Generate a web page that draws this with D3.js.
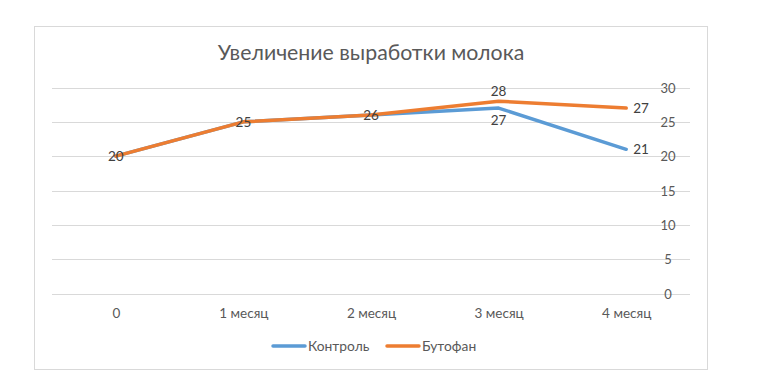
<!DOCTYPE html>
<html>
<head>
<meta charset="utf-8">
<script src="https://cdn.jsdelivr.net/npm/d3@7"></script>
<style>
  html, body { margin: 0; padding: 0; background: #fff; }
  svg { display: block; }
  text { font-family: "Lato", "Noto Sans", "Liberation Sans", sans-serif; }
</style>
</head>
<body>
<svg id="chart" width="766" height="391"></svg>
<script>
const title = "Увеличение выработки молока";
const categories = ["0", "1 месяц", "2 месяц", "3 месяц", "4 месяц"];
const seriesNames = ["Контроль", "Бутофан"];
const controlValues = [20, 25, 26, 27, 21];
const butofanValues = [20, 25, 26, 28, 27];
const yTicks = [0, 5, 10, 15, 20, 25, 30];
const colors = ["#5B9BD5", "#ED7D31"];
// label placement per point (style only)
const controlLabelPos = ["none", "none", "none", "below", "right"];
const butofanLabelPos = ["center", "center", "center", "above", "right"];

const svg = d3.select("#chart");
const FONT = '"Lato", "Noto Sans", "Liberation Sans", sans-serif';

// outer frame
svg.append("rect").attr("x", 34.5).attr("y", 26.5).attr("width", 673).attr("height", 343)
  .attr("fill", "#fff").attr("stroke", "#d9d9d9").attr("stroke-width", 1);

// title
svg.append("text").attr("x", 371).attr("y", 60).attr("text-anchor", "middle")
  .attr("font-size", 21.3).attr("fill", "#595959").text(title);

const x = d3.scalePoint().domain(categories).range([52, 690]).padding(0.5);
const y = d3.scaleLinear().domain([0, 30]).range([293.5, 87.5]);

// gridlines
svg.append("g").selectAll("line").data(yTicks).join("line")
  .attr("x1", 52).attr("x2", 690)
  .attr("y1", d => Math.round(y(d)) + 0.5).attr("y2", d => Math.round(y(d)) + 0.5)
  .attr("stroke", "#d9d9d9").attr("stroke-width", 1);

// right y axis labels
const yAxis = d3.axisRight(y).tickValues(yTicks).tickSize(0).tickPadding(0);
const gy = svg.append("g").attr("transform", "translate(668,0)").call(yAxis);
gy.select(".domain").remove();
gy.selectAll("text").attr("font-size", 13).attr("fill", "#595959")
  .attr("text-anchor", "middle").attr("dy", "0.35em")
  .style("font-family", FONT);

// x axis labels
const xAxis = d3.axisBottom(x).tickSize(0).tickPadding(0);
const gx = svg.append("g").attr("transform", "translate(0,313)").call(xAxis);
gx.select(".domain").remove();
gx.selectAll("text").attr("font-size", 13.5).attr("fill", "#595959").attr("dy", "0.35em")
  .style("font-family", FONT);

// lines
const line = d3.line().x((d, i) => x(categories[i])).y(d => y(d));
const allSeries = [controlValues, butofanValues];
allSeries.forEach((vals, si) => {
  svg.append("path").datum(vals).attr("d", line)
    .attr("fill", "none").attr("stroke", colors[si]).attr("stroke-width", 3.5)
    .attr("stroke-linejoin", "round").attr("stroke-linecap", "round");
});

// data labels
const labelPos = [controlLabelPos, butofanLabelPos];
allSeries.forEach((vals, si) => {
  vals.forEach((v, i) => {
    const pos = labelPos[si][i];
    if (pos === "none") return;
    let lx = x(categories[i]), ly = y(v), anchor = "middle";
    if (pos === "above") ly -= 10;
    else if (pos === "below") ly += 12.5;
    else if (pos === "right") { lx += 7; anchor = "start"; }
    svg.append("text").attr("x", lx).attr("y", ly).attr("dy", "0.35em")
      .attr("text-anchor", anchor).attr("font-size", 13.5).attr("fill", "#404040").text(v);
  });
});

// legend
const legendItems = [
  { name: seriesNames[0], color: colors[0], x1: 273, x2: 305 },
  { name: seriesNames[1], color: colors[1], x1: 387, x2: 419 }
];
legendItems.forEach(it => {
  svg.append("line").attr("x1", it.x1).attr("x2", it.x2).attr("y1", 346).attr("y2", 346)
    .attr("stroke", it.color).attr("stroke-width", 3.5).attr("stroke-linecap", "round");
  svg.append("text").attr("x", it.x2 + 3).attr("y", 346).attr("dy", "0.35em")
    .attr("font-size", 13.8).attr("fill", "#595959").text(it.name);
});
</script>
</body>
</html>
